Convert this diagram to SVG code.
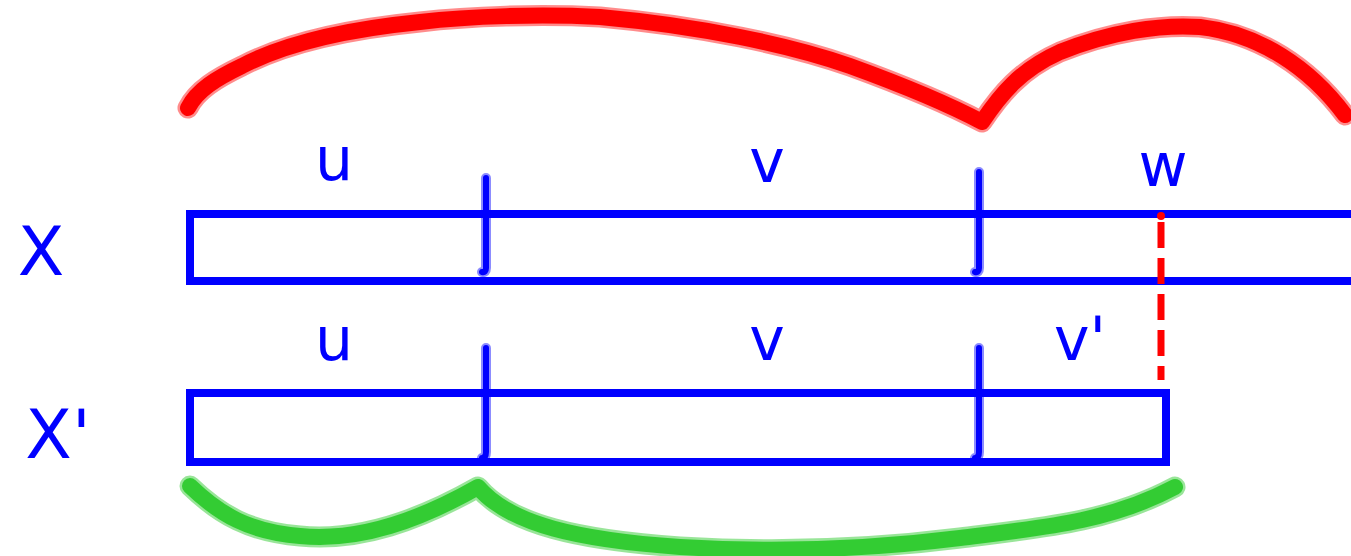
<svg xmlns="http://www.w3.org/2000/svg" width="1351" height="556" viewBox="0 0 1351 556">
<style>
.box{fill:none;stroke:#0000ff;stroke-width:8}
.div{fill:none;stroke:#0000ff;stroke-width:6;stroke-linecap:round}
.divh{fill:none;stroke:#0000ff;stroke-opacity:0.45;stroke-width:10;stroke-linecap:round}
.red{fill:none;stroke:#ff0000;stroke-width:16;stroke-linecap:round;stroke-linejoin:round}
.redh{fill:none;stroke:#ff0000;stroke-opacity:0.45;stroke-width:21;stroke-linecap:round;stroke-linejoin:round}
.grn{fill:none;stroke:#33cc33;stroke-width:16;stroke-linecap:round;stroke-linejoin:round}
.grnh{fill:none;stroke:#33cc33;stroke-opacity:0.5;stroke-width:21;stroke-linecap:round;stroke-linejoin:round}
.dash{fill:none;stroke:#ff0000;stroke-width:7;stroke-dasharray:26 10}
.lbl{font-family:"DejaVu Sans",sans-serif;fill:#0000ff;text-anchor:middle}
</style>
<rect width="1351" height="556" fill="#ffffff"/>
<g id="label-X"><text class="lbl" x="41" y="275" font-size="68">X</text></g>
<g id="label-Xp"><text class="lbl" x="58" y="458" font-size="68">X'</text></g>
<g id="row-X">
<path class="box" d="M1351 214 H190 V281 H1351"/>
<path class="divh" d="M486 178 V268 Q486 273 482 272"/>
<path class="div" d="M486 178 V268 Q486 273 482 272"/>
<path class="divh" d="M979 172 V268 Q979 273 975 272"/>
<path class="div" d="M979 172 V268 Q979 273 975 272"/>
<text class="lbl" x="334" y="180" font-size="60">u</text>
<text class="lbl" x="767" y="182" font-size="60">v</text>
<text class="lbl" x="1163" y="186" font-size="60">w</text>
</g>
<g id="row-Xp">
<rect class="box" x="190" y="393" width="976" height="69"/>
<path class="divh" d="M486 348 V452 Q486 458 482 458"/>
<path class="div" d="M486 348 V452 Q486 458 482 458"/>
<path class="divh" d="M979 348 V452 Q979 458 975 458"/>
<path class="div" d="M979 348 V452 Q979 458 975 458"/>
<text class="lbl" x="334" y="360" font-size="60">u</text>
<text class="lbl" x="767" y="360" font-size="60">v</text>
<text class="lbl" x="1080" y="360" font-size="60">v'</text>
</g>
<g id="connectors">
<circle cx="1161" cy="216" r="4" fill="#ff0000"/>
<path class="dash" d="M1161 222 V380"/>
<path class="redh" d="M188 108 C197 90 217 78 242 66 C282 45 340 30 420 22 C470 16 540 14 600 17 C700 26 790 45 850 66 C905 86 950 105 982 122 C1000 95 1020 70 1060 52 C1110 32 1160 24 1200 27 C1260 34 1310 68 1345 115"/>
<path class="red" d="M188 108 C197 90 217 78 242 66 C282 45 340 30 420 22 C470 16 540 14 600 17 C700 26 790 45 850 66 C905 86 950 105 982 122 C1000 95 1020 70 1060 52 C1110 32 1160 24 1200 27 C1260 34 1310 68 1345 115"/>
<path class="grnh" d="M190 486 C220 515 250 532 300 536 C360 542 420 520 478 487 C510 525 580 540 680 547 C780 553 880 548 960 538 C1040 528 1110 522 1175 487"/>
<path class="grn" d="M190 486 C220 515 250 532 300 536 C360 542 420 520 478 487 C510 525 580 540 680 547 C780 553 880 548 960 538 C1040 528 1110 522 1175 487"/>
</g>
</svg>
